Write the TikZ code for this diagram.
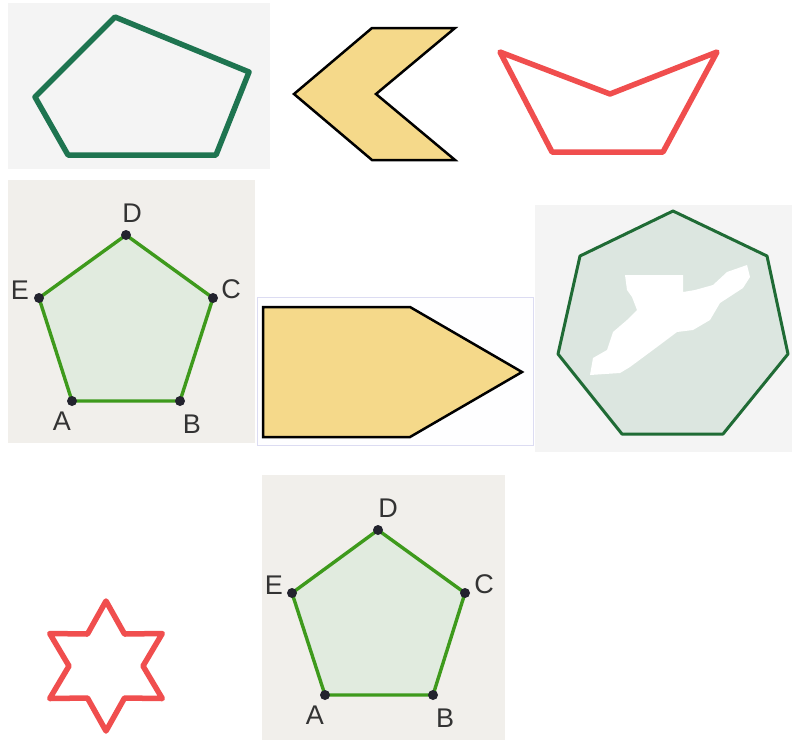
\documentclass[tikz,border=0pt]{standalone}
\usepackage{fontspec}
\setmainfont{Liberation Sans}

\definecolor{panelgrey}{HTML}{F4F4F4}
\definecolor{panelbeige}{HTML}{F1EFEB}
\definecolor{darkgreen}{HTML}{1E7450}
\definecolor{heptgreen}{HTML}{1F6B35}
\definecolor{heptfill}{HTML}{DCE6E0}
\definecolor{pentgreen}{HTML}{3E9A1C}
\definecolor{pentfill}{HTML}{E1EBDF}
\definecolor{sandfill}{HTML}{F5D98A}
\definecolor{redline}{HTML}{F04E4E}
\definecolor{lavender}{HTML}{DCDCF2}
\definecolor{dotcol}{HTML}{23232E}
\definecolor{labelcol}{HTML}{333333}

\tikzset{
  greenline/.style={draw=darkgreen, line width=5.5pt, line join=round},
  redshape/.style={draw=redline, line width=5.5pt, line join=round},
  sandshape/.style={draw=black, fill=sandfill, line width=2.5pt, line join=miter},
  pentshape/.style={draw=pentgreen, fill=pentfill, line width=3.4pt},
  vertexdot/.style={circle, fill=dotcol, inner sep=0pt, minimum size=10pt},
  vlabel/.style={text=labelcol, font=\fontsize{27}{32}\selectfont, inner sep=1pt}
}

\begin{document}
\begin{tikzpicture}[x=1pt,y=-1pt]
\useasboundingbox (0,0) rectangle (792,740);
\fill[white] (0,0) rectangle (792,740);

% top row
\fill[panelgrey] (8,3) rectangle (270,169);
\draw[greenline] (115,17) -- (249,72) -- (216,155) -- (68,155) -- (35,97) -- cycle;

\draw[sandshape] (372,28) -- (455,28) -- (376,94) -- (455,160) -- (372,160) -- (294,94) -- cycle;

\draw[redshape] (500,52) -- (610,94) -- (717,52) -- (663,152) -- (552,152) -- cycle;

% middle row, pentagon ABCDE
\fill[panelbeige] (8,180) rectangle (255,443);
\coordinate (a1) at (72,401);
\coordinate (b1) at (180,401);
\coordinate (c1) at (213,298);
\coordinate (d1) at (126,235);
\coordinate (e1) at (39,298);
\draw[pentshape] (a1) -- (b1) -- (c1) -- (d1) -- (e1) -- cycle;
\foreach \p in {a1,b1,c1,d1,e1}
  \node[vertexdot] at (\p) {};
\node[vlabel] (la1) at (62,421) {A};
\node[vlabel] (lb1) at (192,424) {B};
\node[vlabel] (lc1) at (231,289) {C};
\node[vlabel] (ld1) at (132,213) {D};
\node[vlabel] (le1) at (20,290) {E};

% arrow shape
\filldraw[fill=white!97!lavender, draw=lavender, line width=1pt] (257,297) rectangle (533,445);
\draw[sandshape] (263,307) -- (410,307) -- (522,372) -- (410,437) -- (263,437) -- cycle;

% heptagon
\fill[panelgrey] (535,205) rectangle (792,452);
\draw[draw=heptgreen, fill=heptfill, line width=3pt, line join=round]
  (673,211) -- (767,256) -- (788,354) -- (723,434) -- (622,434) -- (558,354) -- (580,256) -- cycle;
\fill[white] (625,275) -- (683,275) -- (683,292) -- (695,290) -- (713,285) -- (727,272)
  -- (747,265) -- (750,277) -- (743,288) -- (720,303) -- (710,320) -- (693,330)
  -- (677,332) -- (657,347) -- (630,367) -- (620,373) -- (590,375) -- (593,358)
  -- (607,350) -- (613,332) -- (627,320) -- (637,310) -- (632,297) -- (627,290) -- cycle;

% bottom row
\draw[redshape] (106,601) -- (124.5,634) -- (162.3,633.5) -- (143,666) -- (162.3,698.5)
  -- (124.5,698) -- (106,731) -- (87.5,698) -- (49.7,698.5) -- (69,666) -- (49.7,633.5)
  -- (87.5,634) -- cycle;

\fill[panelbeige] (262,475) rectangle (505,740);
\coordinate (a2) at (325,695);
\coordinate (b2) at (433,695);
\coordinate (c2) at (465,593);
\coordinate (d2) at (378,530);
\coordinate (e2) at (292,593);
\draw[pentshape] (a2) -- (b2) -- (c2) -- (d2) -- (e2) -- cycle;
\foreach \p in {a2,b2,c2,d2,e2}
  \node[vertexdot] at (\p) {};
\node[vlabel] (la2) at (315,715) {A};
\node[vlabel] (lb2) at (445,718) {B};
\node[vlabel] (lc2) at (484,584) {C};
\node[vlabel] (ld2) at (388,508) {D};
\node[vlabel] (le2) at (274,585) {E};
\end{tikzpicture}
\end{document}
